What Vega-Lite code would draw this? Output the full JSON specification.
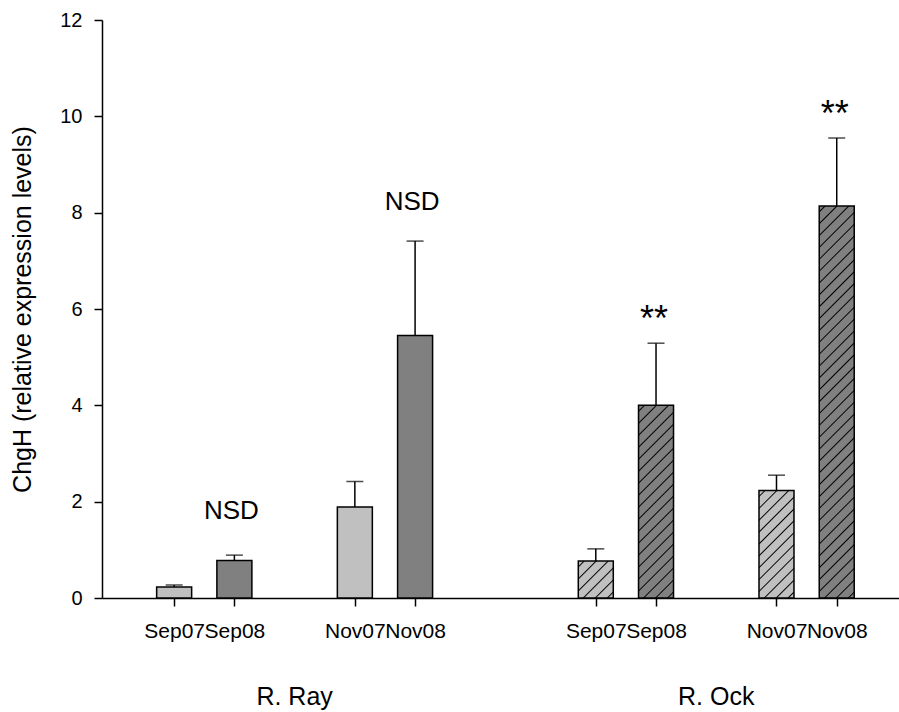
{
  "$schema": "https://vega.github.io/schema/vega-lite/v6.json",
  "width": 797,
  "height": 578,
  "autosize": {"type": "none"},
  "padding": {"left": 102, "top": 20, "right": 0, "bottom": 114},
  "background": "white",
  "config": {
    "view": {"stroke": null},
    "font": "Liberation Sans",
    "axis": {
      "labelFont": "Liberation Sans",
      "titleFont": "Liberation Sans",
      "labelColor": "black",
      "titleColor": "black",
      "domainColor": "black",
      "tickColor": "black",
      "domainWidth": 1.5,
      "tickWidth": 1.5,
      "tickSize": 8,
      "grid": false,
      "labelFontSize": 20,
      "titleFontWeight": "normal"
    }
  },
  "datasets": {
    "bars": [
      {"site": "R. Ray", "month": "Sep07", "year": "07", "pos": 0, "mean": 0.23, "upper": 0.27},
      {"site": "R. Ray", "month": "Sep08", "year": "08", "pos": 1, "mean": 0.78, "upper": 0.89},
      {"site": "R. Ray", "month": "Nov07", "year": "07", "pos": 3, "mean": 1.89, "upper": 2.42},
      {"site": "R. Ray", "month": "Nov08", "year": "08", "pos": 4, "mean": 5.45, "upper": 7.41},
      {"site": "R. Ock", "month": "Sep07", "year": "07", "pos": 7, "mean": 0.77, "upper": 1.02},
      {"site": "R. Ock", "month": "Sep08", "year": "08", "pos": 8, "mean": 4.0, "upper": 5.29},
      {"site": "R. Ock", "month": "Nov07", "year": "07", "pos": 10, "mean": 2.23, "upper": 2.55},
      {"site": "R. Ock", "month": "Nov08", "year": "08", "pos": 11, "mean": 8.14, "upper": 9.55}
    ],
    "notes": [
      {"label": "NSD", "pos": 1, "level": 1.63},
      {"label": "NSD", "pos": 4, "level": 8.05}
    ],
    "stars": [
      {"label": "**", "pos": 8, "level": 5.54},
      {"label": "**", "pos": 11, "level": 9.79}
    ],
    "groups": [
      {"label": "R. Ray", "pos": 2, "level": -2.22},
      {"label": "R. Ock", "pos": 9, "level": -2.22}
    ]
  },
  "data": {"name": "bars"},
  "encoding": {
    "x": {
      "field": "pos",
      "type": "quantitative",
      "scale": {"domain": [-1.1148, 11.9508], "nice": false, "zero": false},
      "axis": {
        "values": [0, 1, 3, 4, 7, 8, 10, 11],
        "labelExpr": "['Sep07','Sep08','','Nov07','Nov08','',''][datum.value % 7]",
        "title": null,
        "labelFontSize": 21,
        "labelPadding": 14,
        "labelOverlap": false,
        "labelFlush": false,
        "labelBound": false
      }
    }
  },
  "layer": [
    {
      "transform": [{"filter": "datum.site === 'R. Ray'"}],
      "mark": {"type": "bar", "orient": "vertical", "width": 35, "stroke": "black", "strokeWidth": 1.5},
      "encoding": {
        "y": {
          "field": "mean",
          "type": "quantitative",
          "title": "ChgH (relative expression levels)",
          "scale": {"domain": [0, 12], "nice": false},
          "axis": {
            "values": [0, 2, 4, 6, 8, 10, 12],
            "titleFontSize": 25,
            "titlePadding": 24,
            "labelPadding": 12
          }
        },
        "fill": {
          "field": "year",
          "type": "nominal",
          "scale": {"domain": ["07", "08"], "range": ["#c0c0c0", "#808080"]},
          "legend": null
        }
      }
    },
    {
      "transform": [{"filter": "datum.pos === 7"}],
      "mark": {
        "type": "bar", "orient": "vertical", "width": 35, "stroke": "black", "strokeWidth": 1.5,
        "fill": {
          "gradient": "linear", "x1": 0, "y1": 0, "x2": 0.970, "y2": 1.028,
          "stops": [
            {"offset": 0.0639, "color": "#c0c0c0"}, {"offset": 0.0833, "color": "#000000"}, {"offset": 0.1027, "color": "#c0c0c0"},
            {"offset": 0.2306, "color": "#c0c0c0"}, {"offset": 0.25, "color": "#000000"}, {"offset": 0.2694, "color": "#c0c0c0"},
            {"offset": 0.3973, "color": "#c0c0c0"}, {"offset": 0.4167, "color": "#000000"}, {"offset": 0.4361, "color": "#c0c0c0"},
            {"offset": 0.5639, "color": "#c0c0c0"}, {"offset": 0.5833, "color": "#000000"}, {"offset": 0.6027, "color": "#c0c0c0"},
            {"offset": 0.7306, "color": "#c0c0c0"}, {"offset": 0.75, "color": "#000000"}, {"offset": 0.7694, "color": "#c0c0c0"},
            {"offset": 0.8973, "color": "#c0c0c0"}, {"offset": 0.9167, "color": "#000000"}, {"offset": 0.9361, "color": "#c0c0c0"}
          ]
        }
      },
      "encoding": {
        "y": {"field": "mean", "type": "quantitative", "title": "ChgH (relative expression levels)"}
      }
    },
    {
      "transform": [{"filter": "datum.pos === 8"}],
      "mark": {
        "type": "bar", "orient": "vertical", "width": 35, "stroke": "black", "strokeWidth": 1.5,
        "fill": {
          "gradient": "linear", "x1": 0, "y1": 0, "x2": 0.2078, "y2": 1.1439,
          "stops": [
            {"offset": 0.0201, "color": "#808080"}, {"offset": 0.0263, "color": "#000000"}, {"offset": 0.0325, "color": "#808080"},
            {"offset": 0.0727, "color": "#808080"}, {"offset": 0.0789, "color": "#000000"}, {"offset": 0.0851, "color": "#808080"},
            {"offset": 0.1254, "color": "#808080"}, {"offset": 0.1316, "color": "#000000"}, {"offset": 0.1378, "color": "#808080"},
            {"offset": 0.1780, "color": "#808080"}, {"offset": 0.1842, "color": "#000000"}, {"offset": 0.1904, "color": "#808080"},
            {"offset": 0.2306, "color": "#808080"}, {"offset": 0.2368, "color": "#000000"}, {"offset": 0.2430, "color": "#808080"},
            {"offset": 0.2833, "color": "#808080"}, {"offset": 0.2895, "color": "#000000"}, {"offset": 0.2957, "color": "#808080"},
            {"offset": 0.3359, "color": "#808080"}, {"offset": 0.3421, "color": "#000000"}, {"offset": 0.3483, "color": "#808080"},
            {"offset": 0.3885, "color": "#808080"}, {"offset": 0.3947, "color": "#000000"}, {"offset": 0.4009, "color": "#808080"},
            {"offset": 0.4412, "color": "#808080"}, {"offset": 0.4474, "color": "#000000"}, {"offset": 0.4536, "color": "#808080"},
            {"offset": 0.4938, "color": "#808080"}, {"offset": 0.5, "color": "#000000"}, {"offset": 0.5062, "color": "#808080"},
            {"offset": 0.5464, "color": "#808080"}, {"offset": 0.5526, "color": "#000000"}, {"offset": 0.5588, "color": "#808080"},
            {"offset": 0.5991, "color": "#808080"}, {"offset": 0.6053, "color": "#000000"}, {"offset": 0.6115, "color": "#808080"},
            {"offset": 0.6517, "color": "#808080"}, {"offset": 0.6579, "color": "#000000"}, {"offset": 0.6641, "color": "#808080"},
            {"offset": 0.7043, "color": "#808080"}, {"offset": 0.7105, "color": "#000000"}, {"offset": 0.7167, "color": "#808080"},
            {"offset": 0.7570, "color": "#808080"}, {"offset": 0.7632, "color": "#000000"}, {"offset": 0.7694, "color": "#808080"},
            {"offset": 0.8096, "color": "#808080"}, {"offset": 0.8158, "color": "#000000"}, {"offset": 0.8220, "color": "#808080"},
            {"offset": 0.8622, "color": "#808080"}, {"offset": 0.8684, "color": "#000000"}, {"offset": 0.8746, "color": "#808080"},
            {"offset": 0.9149, "color": "#808080"}, {"offset": 0.9211, "color": "#000000"}, {"offset": 0.9273, "color": "#808080"},
            {"offset": 0.9675, "color": "#808080"}, {"offset": 0.9737, "color": "#000000"}, {"offset": 0.9799, "color": "#808080"}
          ]
        }
      },
      "encoding": {
        "y": {"field": "mean", "type": "quantitative", "title": "ChgH (relative expression levels)"}
      }
    },
    {
      "transform": [{"filter": "datum.pos === 10"}],
      "mark": {
        "type": "bar", "orient": "vertical", "width": 35, "stroke": "black", "strokeWidth": 1.5,
        "fill": {
          "gradient": "linear", "x1": 0, "y1": 0, "x2": 0.3906, "y2": 1.1986,
          "stops": [
            {"offset": 0.0319, "color": "#c0c0c0"}, {"offset": 0.0417, "color": "#000000"}, {"offset": 0.0515, "color": "#c0c0c0"},
            {"offset": 0.1152, "color": "#c0c0c0"}, {"offset": 0.125, "color": "#000000"}, {"offset": 0.1348, "color": "#c0c0c0"},
            {"offset": 0.1985, "color": "#c0c0c0"}, {"offset": 0.2083, "color": "#000000"}, {"offset": 0.2181, "color": "#c0c0c0"},
            {"offset": 0.2819, "color": "#c0c0c0"}, {"offset": 0.2917, "color": "#000000"}, {"offset": 0.3015, "color": "#c0c0c0"},
            {"offset": 0.3652, "color": "#c0c0c0"}, {"offset": 0.375, "color": "#000000"}, {"offset": 0.3848, "color": "#c0c0c0"},
            {"offset": 0.4485, "color": "#c0c0c0"}, {"offset": 0.4583, "color": "#000000"}, {"offset": 0.4681, "color": "#c0c0c0"},
            {"offset": 0.5319, "color": "#c0c0c0"}, {"offset": 0.5417, "color": "#000000"}, {"offset": 0.5515, "color": "#c0c0c0"},
            {"offset": 0.6152, "color": "#c0c0c0"}, {"offset": 0.625, "color": "#000000"}, {"offset": 0.6348, "color": "#c0c0c0"},
            {"offset": 0.6985, "color": "#c0c0c0"}, {"offset": 0.7083, "color": "#000000"}, {"offset": 0.7181, "color": "#c0c0c0"},
            {"offset": 0.7819, "color": "#c0c0c0"}, {"offset": 0.7917, "color": "#000000"}, {"offset": 0.8015, "color": "#c0c0c0"},
            {"offset": 0.8652, "color": "#c0c0c0"}, {"offset": 0.875, "color": "#000000"}, {"offset": 0.8848, "color": "#c0c0c0"},
            {"offset": 0.9485, "color": "#c0c0c0"}, {"offset": 0.9583, "color": "#000000"}, {"offset": 0.9681, "color": "#c0c0c0"}
          ]
        }
      },
      "encoding": {
        "y": {"field": "mean", "type": "quantitative", "title": "ChgH (relative expression levels)"}
      }
    },
    {
      "transform": [{"filter": "datum.pos === 11"}],
      "mark": {
        "type": "bar", "orient": "vertical", "width": 35, "stroke": "black", "strokeWidth": 1.5,
        "fill": {
          "gradient": "linear", "x1": 0, "y1": 0, "x2": 0.0965, "y2": 1.0807,
          "stops": [
            {"offset": 0.0106, "color": "#808080"}, {"offset": 0.0139, "color": "#000000"}, {"offset": 0.0172, "color": "#808080"},
            {"offset": 0.0384, "color": "#808080"}, {"offset": 0.0417, "color": "#000000"}, {"offset": 0.0450, "color": "#808080"},
            {"offset": 0.0661, "color": "#808080"}, {"offset": 0.0694, "color": "#000000"}, {"offset": 0.0727, "color": "#808080"},
            {"offset": 0.0939, "color": "#808080"}, {"offset": 0.0972, "color": "#000000"}, {"offset": 0.1005, "color": "#808080"},
            {"offset": 0.1217, "color": "#808080"}, {"offset": 0.1250, "color": "#000000"}, {"offset": 0.1283, "color": "#808080"},
            {"offset": 0.1495, "color": "#808080"}, {"offset": 0.1528, "color": "#000000"}, {"offset": 0.1561, "color": "#808080"},
            {"offset": 0.1773, "color": "#808080"}, {"offset": 0.1806, "color": "#000000"}, {"offset": 0.1839, "color": "#808080"},
            {"offset": 0.2050, "color": "#808080"}, {"offset": 0.2083, "color": "#000000"}, {"offset": 0.2116, "color": "#808080"},
            {"offset": 0.2328, "color": "#808080"}, {"offset": 0.2361, "color": "#000000"}, {"offset": 0.2394, "color": "#808080"},
            {"offset": 0.2606, "color": "#808080"}, {"offset": 0.2639, "color": "#000000"}, {"offset": 0.2672, "color": "#808080"},
            {"offset": 0.2884, "color": "#808080"}, {"offset": 0.2917, "color": "#000000"}, {"offset": 0.2950, "color": "#808080"},
            {"offset": 0.3161, "color": "#808080"}, {"offset": 0.3194, "color": "#000000"}, {"offset": 0.3227, "color": "#808080"},
            {"offset": 0.3439, "color": "#808080"}, {"offset": 0.3472, "color": "#000000"}, {"offset": 0.3505, "color": "#808080"},
            {"offset": 0.3717, "color": "#808080"}, {"offset": 0.3750, "color": "#000000"}, {"offset": 0.3783, "color": "#808080"},
            {"offset": 0.3995, "color": "#808080"}, {"offset": 0.4028, "color": "#000000"}, {"offset": 0.4061, "color": "#808080"},
            {"offset": 0.4273, "color": "#808080"}, {"offset": 0.4306, "color": "#000000"}, {"offset": 0.4339, "color": "#808080"},
            {"offset": 0.4550, "color": "#808080"}, {"offset": 0.4583, "color": "#000000"}, {"offset": 0.4616, "color": "#808080"},
            {"offset": 0.4828, "color": "#808080"}, {"offset": 0.4861, "color": "#000000"}, {"offset": 0.4894, "color": "#808080"},
            {"offset": 0.5106, "color": "#808080"}, {"offset": 0.5139, "color": "#000000"}, {"offset": 0.5172, "color": "#808080"},
            {"offset": 0.5384, "color": "#808080"}, {"offset": 0.5417, "color": "#000000"}, {"offset": 0.5450, "color": "#808080"},
            {"offset": 0.5661, "color": "#808080"}, {"offset": 0.5694, "color": "#000000"}, {"offset": 0.5727, "color": "#808080"},
            {"offset": 0.5939, "color": "#808080"}, {"offset": 0.5972, "color": "#000000"}, {"offset": 0.6005, "color": "#808080"},
            {"offset": 0.6217, "color": "#808080"}, {"offset": 0.6250, "color": "#000000"}, {"offset": 0.6283, "color": "#808080"},
            {"offset": 0.6495, "color": "#808080"}, {"offset": 0.6528, "color": "#000000"}, {"offset": 0.6561, "color": "#808080"},
            {"offset": 0.6773, "color": "#808080"}, {"offset": 0.6806, "color": "#000000"}, {"offset": 0.6839, "color": "#808080"},
            {"offset": 0.7050, "color": "#808080"}, {"offset": 0.7083, "color": "#000000"}, {"offset": 0.7116, "color": "#808080"},
            {"offset": 0.7328, "color": "#808080"}, {"offset": 0.7361, "color": "#000000"}, {"offset": 0.7394, "color": "#808080"},
            {"offset": 0.7606, "color": "#808080"}, {"offset": 0.7639, "color": "#000000"}, {"offset": 0.7672, "color": "#808080"},
            {"offset": 0.7884, "color": "#808080"}, {"offset": 0.7917, "color": "#000000"}, {"offset": 0.7950, "color": "#808080"},
            {"offset": 0.8161, "color": "#808080"}, {"offset": 0.8194, "color": "#000000"}, {"offset": 0.8227, "color": "#808080"},
            {"offset": 0.8439, "color": "#808080"}, {"offset": 0.8472, "color": "#000000"}, {"offset": 0.8505, "color": "#808080"},
            {"offset": 0.8717, "color": "#808080"}, {"offset": 0.8750, "color": "#000000"}, {"offset": 0.8783, "color": "#808080"},
            {"offset": 0.8995, "color": "#808080"}, {"offset": 0.9028, "color": "#000000"}, {"offset": 0.9061, "color": "#808080"},
            {"offset": 0.9273, "color": "#808080"}, {"offset": 0.9306, "color": "#000000"}, {"offset": 0.9339, "color": "#808080"},
            {"offset": 0.9550, "color": "#808080"}, {"offset": 0.9583, "color": "#000000"}, {"offset": 0.9616, "color": "#808080"},
            {"offset": 0.9828, "color": "#808080"}, {"offset": 0.9861, "color": "#000000"}, {"offset": 0.9894, "color": "#808080"}
          ]
        }
      },
      "encoding": {
        "y": {"field": "mean", "type": "quantitative", "title": "ChgH (relative expression levels)"}
      }
    },
    {
      "mark": {"type": "rule", "color": "black", "strokeWidth": 1.5},
      "encoding": {
        "y": {"field": "mean", "type": "quantitative", "title": "ChgH (relative expression levels)"},
        "y2": {"field": "upper"}
      }
    },
    {
      "mark": {"type": "tick", "orient": "horizontal", "color": "black", "size": 17, "thickness": 1.5},
      "encoding": {
        "y": {"field": "upper", "type": "quantitative", "title": "ChgH (relative expression levels)"}
      }
    },
    {
      "data": {"name": "notes"},
      "mark": {"type": "text", "fontSize": 26, "color": "black", "baseline": "alphabetic", "align": "center", "dx": -3},
      "encoding": {
        "y": {"field": "level", "type": "quantitative", "title": "ChgH (relative expression levels)"},
        "text": {"field": "label"}
      }
    },
    {
      "data": {"name": "stars"},
      "mark": {"type": "text", "fontSize": 36, "color": "black", "baseline": "alphabetic", "align": "center", "dx": -2},
      "encoding": {
        "y": {"field": "level", "type": "quantitative", "title": "ChgH (relative expression levels)"},
        "text": {"field": "label"}
      }
    },
    {
      "data": {"name": "groups"},
      "mark": {"type": "text", "fontSize": 25, "color": "black", "baseline": "alphabetic", "align": "center"},
      "encoding": {
        "y": {"field": "level", "type": "quantitative", "title": "ChgH (relative expression levels)"},
        "text": {"field": "label"}
      }
    }
  ]
}
